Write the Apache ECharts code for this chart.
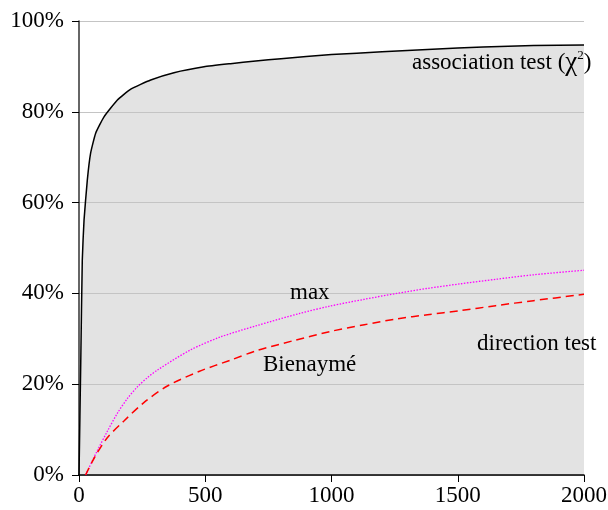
<!DOCTYPE html>
<html>
<head>
<meta charset="utf-8">
<script src="https://cdn.jsdelivr.net/npm/echarts@6/dist/echarts.min.js"></script>
<style>html,body{margin:0;padding:0;background:#fff}#c{width:608px;height:510px}</style>
</head>
<body>
<div id="c"></div>
<script>
var assocX = [0, 7, 13, 20, 33, 46, 66, 99, 152, 205, 284, 376, 495, 600, 700, 800, 1000, 1200, 1400, 1600, 1800, 2000];
var assocY = [0, 25, 47.3, 56.2, 65, 70.9, 75.3, 78.9, 82.6, 85.0, 87, 88.6, 89.9, 90.6, 91.2, 91.7, 92.6, 93.2, 93.8, 94.3, 94.6, 94.7];
var maxX = [26, 50, 72, 112, 152, 191, 231, 270, 310, 440, 560, 704, 875, 994, 1130, 1258, 1380, 1509, 1650, 1800, 2000];
var maxY = [0, 2.8, 5.3, 9.6, 13.6, 16.8, 19.4, 21.4, 23.1, 27.5, 30.4, 32.9, 35.6, 37.2, 38.7, 40, 41.1, 42.1, 43.1, 44.1, 45.1];
var bienX = [26, 61, 112, 178, 258, 350, 475, 600, 704, 850, 994, 1130, 1260, 1380, 1509, 1650, 1800, 2000];
var bienY = [0, 3.8, 8.2, 11.9, 16, 19.6, 22.8, 25.3, 27.4, 29.6, 31.6, 33.1, 34.4, 35.3, 36.2, 37.3, 38.4, 39.8];
var yTicks = [0, 20, 40, 60, 80, 100];
var xTicks = [0, 500, 1000, 1500, 2000];

function pairs(xs, ys){ return xs.map(function(x,i){ return [x, ys[i]]; }); }
var FONT = '"Liberation Serif", "Times New Roman", serif';

var chart = echarts.init(document.getElementById('c'), null, {renderer:'canvas'});
chart.setOption({
  animation: false,
  backgroundColor: '#fff',
  grid: {left: 79, right: 24, top: 21, bottom: 35, containLabel: false, outerBoundsMode: 'none'},
  xAxis: {
    type: 'value', min: xTicks[0], max: xTicks[xTicks.length-1], interval: 500, z: 2,
    axisLine: {lineStyle: {color: '#000', width: 1.5}},
    axisTick: {show: true, length: 7, lineStyle: {color: '#000'}},
    axisLabel: {color: '#000', fontFamily: FONT, fontSize: 23, margin: 9, formatter: function(v){ return String(v); }},
    splitLine: {show: false}
  },
  yAxis: {
    type: 'value', min: yTicks[0], max: yTicks[yTicks.length-1], interval: 20, z: 2,
    axisLine: {show: true, lineStyle: {color: '#333', width: 1.5}},
    axisTick: {show: true, length: 7, lineStyle: {color: '#000'}},
    axisLabel: {color: '#000', fontFamily: FONT, fontSize: 23, margin: 15, formatter: function(v){ return v + '%'; }},
    splitLine: {show: true, lineStyle: {color: '#c4c4c4', width: 1}}
  },
  series: [
    {type: 'line', data: pairs(assocX, assocY), symbol: 'none', z: 1, smooth: 0.15,
     lineStyle: {width: 0, opacity: 0}, areaStyle: {color: '#e3e3e3', opacity: 1}},
    {type: 'line', data: pairs(assocX, assocY), symbol: 'none', z: 3, smooth: 0.15,
     lineStyle: {color: '#000', width: 1.5}},
    {type: 'line', data: pairs(maxX, maxY), symbol: 'none', z: 3, smooth: 0.3,
     lineStyle: {color: '#ff00ff', width: 1.3, type: [1.5, 1.5]}},
    {type: 'line', data: pairs(bienX, bienY), symbol: 'none', z: 3, smooth: 0.3,
     lineStyle: {color: '#ff0000', width: 1.5, type: [8, 5]}}
  ],
  graphic: [
    {type: 'text', left: 412, top: 49, z: 10, style: {
      text: '{a|association test (}{c|χ}{s|2}{a|)}',
      rich: {
        a: {fontFamily: FONT, fontSize: 23, fill: '#000'},
        c: {fontFamily: FONT, fontSize: 27, fill: '#000'},
        s: {fontFamily: FONT, fontSize: 13, fill: '#000', verticalAlign: 'top', padding: [0,0,12,0]}
      }}},
    {type: 'text', left: 290, top: 281, z: 10, style: {text: 'max', font: '23px ' + FONT, fill: '#000'}},
    {type: 'text', left: 263, top: 353, z: 10, style: {text: 'Bienaymé', font: '23px ' + FONT, fill: '#000'}},
    {type: 'text', left: 477, top: 332, z: 10, style: {text: 'direction test', font: '23px ' + FONT, fill: '#000'}}
  ]
});
</script>
</body>
</html>
